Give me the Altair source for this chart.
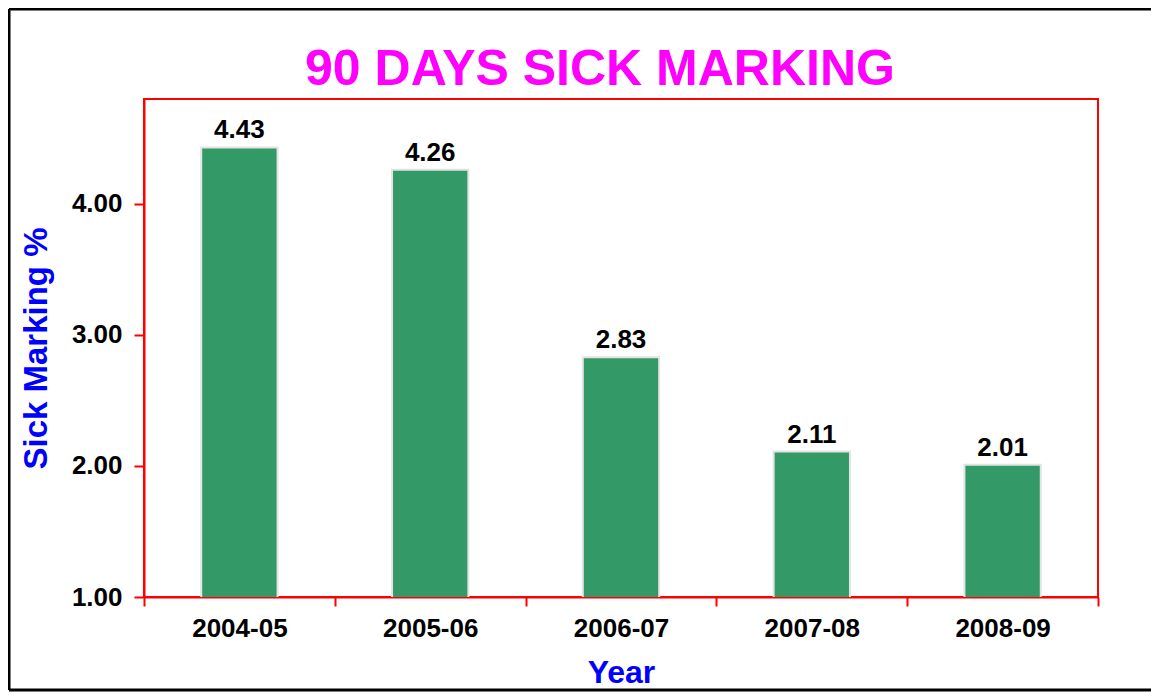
import altair as alt
import pandas as pd

years = ["2004-05", "2005-06", "2006-07", "2007-08", "2008-09"]
values = [4.43, 4.26, 2.83, 2.11, 2.01]
y_ticks = [1, 2, 3, 4]
title_text = "90 DAYS SICK MARKING"

df = pd.DataFrame({"Year": years, "Value": values})

W, H = 954, 498
FONT = "Liberation Sans"

x_enc = alt.X(
    "Year:N",
    sort=years,
    scale=alt.Scale(paddingInner=0, paddingOuter=0),
    axis=alt.Axis(
        title="Year",
        labelAngle=0,
        tickBand="extent",
        tickSize=9,
        tickWidth=2,
        tickColor="red",
        domainColor="red",
        domainWidth=2,
        labelFont=FONT,
        labelFontSize=26,
        labelFontWeight="bold",
        labelColor="black",
        labelPadding=9,
        titleFont=FONT,
        titleFontSize=32,
        titleFontWeight="bold",
        titleColor="#0000FF",
        titlePadding=16,
    ),
)
y_enc = alt.Y(
    "Value:Q",
    scale=alt.Scale(domain=[1, 4.8], nice=False, zero=False),
    axis=alt.Axis(
        title="Sick Marking %",
        values=y_ticks,
        format=".2f",
        grid=False,
        tickSize=10,
        tickWidth=2,
        tickColor="red",
        domainColor="red",
        domainWidth=2,
        labelFont=FONT,
        labelFontSize=26,
        labelFontWeight="bold",
        labelColor="black",
        labelPadding=12,
        titleFont=FONT,
        titleFontSize=33,
        titleFontWeight="bold",
        titleColor="#0000FF",
        titlePadding=18,
    ),
)

base = alt.Chart(df)
bars = base.mark_bar(
    color="#339966", stroke="#e3e3e3", strokeWidth=2, clip=True,
    width=alt.RelativeBandSize(0.4),
).encode(x=x_enc, y=y_enc)
labels = base.mark_text(
    font=FONT, fontSize=26, fontWeight="bold", color="black", baseline="bottom", dy=-4
).encode(
    x=alt.X("Year:N", sort=years),
    y=alt.Y("Value:Q"),
    text=alt.Text("Value:Q", format=".2f"),
)

one = pd.DataFrame({"t": [title_text]})
title = alt.Chart(one).mark_text(
    font=FONT, fontSize=50, fontWeight="bold", color="#FF00FF",
    align="center", baseline="alphabetic",
).encode(
    text="t:N",
    x=alt.value(W / 2 - 21),
    y=alt.value(-14),
)

frame = alt.Chart(one).mark_rule(color="black", strokeWidth=3)
left_line = frame.encode(x=alt.value(-135), y=alt.value(-90), y2=alt.value(H + 93))
top_line = frame.encode(x=alt.value(-135), x2=alt.value(W + 200), y=alt.value(-90))
bottom_line = frame.encode(x=alt.value(-135), x2=alt.value(W + 200), y=alt.value(H + 93))

chart = (
    alt.layer(bars, labels, title, left_line, top_line, bottom_line)
    .properties(
        width=W,
        height=H,
        autosize=alt.AutoSizeParams(type="none"),
        padding={"left": 136, "top": 91, "right": 53, "bottom": 95},
    )
    .configure(background="white", view=alt.ViewConfig(stroke="red", strokeWidth=2))
)

chart.save("out.html", embed_options={"renderer": "svg", "actions": False})
